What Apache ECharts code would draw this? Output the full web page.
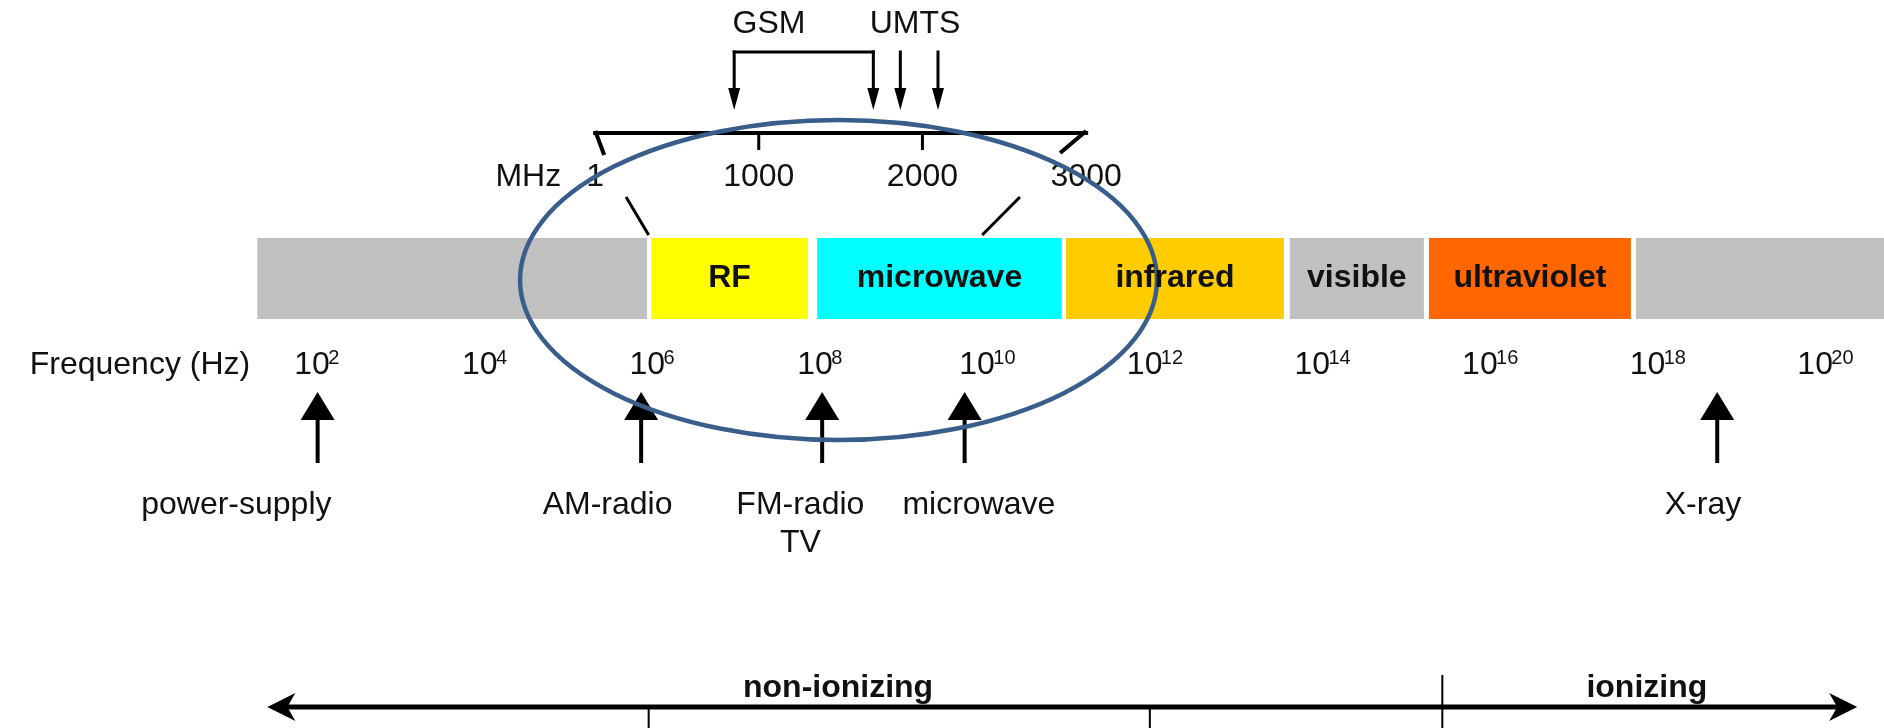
<!DOCTYPE html>
<html>
<head>
<meta charset="utf-8">
<title>Electromagnetic spectrum</title>
<script src="https://cdn.jsdelivr.net/npm/echarts@6/dist/echarts.min.js"></script>
<style>
  html, body { margin: 0; padding: 0; background: #fff; }
  #main { width: 1884px; height: 728px; }
</style>
</head>
<body>
<div id="main"></div>
<script>
// spectrum bands, x in log10(Hz)
var bandNames = ['', 'RF', 'microwave', 'infrared', 'visible', 'ultraviolet', ''];
var bandStart = [1.29, 5.99, 7.97, 10.94, 13.61, 15.27, 17.74];
var bandEnd = [5.94, 7.86, 10.89, 13.54, 15.21, 17.68, 20.7];
var bandColors = ['#c0c0c0', '#ffff00', '#00ffff', '#ffcc00', '#c0c0c0', '#ff6600', '#c0c0c0'];

// frequency tick labels, 10^n
var tickExp = [2, 4, 6, 8, 10, 12, 14, 16, 18, 20];
var freqName = 'Frequency (Hz)';
var freqNameExp = -0.11;

// sources pointed at from below
var sourceNames = ['power-supply', 'AM-radio', 'FM-radio\nTV', 'microwave', 'X-ray'];
var sourceExp = [2.01, 5.87, 8.03, 9.73, 18.71];
var sourceLabelExp = [1.04, 5.47, 7.77, 9.9, 18.54];

// zoomed MHz scale
var mhzTicks = [1, 1000, 2000, 3000];
var netNames = ['GSM', 'UMTS'];
var netLabelMHz = [1063, 1955];
var gsmMHz = [850, 1700];
var umtsMHz = [1865, 2095];

// lines tying the MHz scale to the band
var zoomTopExp = [5.69, 10.39];
var zoomBottomExp = [5.96, 9.94];

// circled area
var ringCenterExp = 8.225;
var ringHalfWidthExp = 3.8;

// ionizing split
var rangeNames = ['non-ionizing', 'ionizing'];
var rangeLabelExp = [8.22, 17.87];
var rangeLineExp = [1.41, 20.38];
var rangeTickExp = [5.96, 11.94];
var rangeSplitExp = 15.43;

var FONT = '"Liberation Sans", Arial, sans-serif';
var INK = '#111';

// vertical layout, px from top
var Y = {
  netLabel: 24, netTop: 52, netTip: 110,
  mhzLine: 133, mhzTick: 150, mhzLabel: 177,
  zoomTop: 197, zoomBottom: 235,
  barTop: 238, barBottom: 319, ring: 280, ringHalf: 160,
  freqLabel: 365,
  srcTip: 392, srcHead: 420, srcEnd: 463, srcLabel: 486,
  rangeLabel: 688, rangeLine: 707, splitTop: 675, tickBottom: 728
};

var chart = echarts.init(document.getElementById('main'));

function txt(x, y, text, font, align, va) {
  return { type: 'text', x: x, y: y, style: { text: text, font: font, fill: INK, align: align || 'center', verticalAlign: va || 'middle', lineHeight: 38 } };
}
function seg(a, b, w) {
  return { type: 'line', shape: { x1: a[0], y1: a[1], x2: b[0], y2: b[1] }, style: { stroke: '#000', lineWidth: w } };
}

function renderBand(params, api) {
  var i = params.dataIndex;
  var a = api.coord([api.value(0), Y.barTop]);
  var b = api.coord([api.value(1), Y.barBottom]);
  return {
    type: 'rect',
    shape: { x: a[0], y: a[1], width: b[0] - a[0], height: b[1] - a[1] },
    style: { fill: bandColors[i] },
    textContent: { style: { text: bandNames[i], font: 'bold 32px ' + FONT, fill: INK } },
    textConfig: { position: 'inside' }
  };
}

function renderTick(params, api) {
  var e = api.value(0);
  var p = api.coord([e, Y.freqLabel]);
  var sup = String(e);
  var baseW = 34, supW = sup.length * 11;
  var left = p[0] - (baseW + supW) / 2;
  return { type: 'group', children: [
    txt(left, p[1], '10', '32px ' + FONT, 'left'),
    txt(left + baseW, p[1] - 7, sup, '20px ' + FONT, 'left')
  ] };
}

function renderFreqName(params, api) {
  var p = api.coord([api.value(0), Y.freqLabel]);
  return txt(p[0], p[1], freqName, '32px ' + FONT);
}

function renderSource(params, api) {
  var i = params.dataIndex;
  var tip = api.coord([api.value(0), Y.srcTip]);
  var head = api.coord([api.value(0), Y.srcHead]);
  var end = api.coord([api.value(0), Y.srcEnd]);
  var lab = api.coord([api.value(1), Y.srcLabel]);
  return { type: 'group', children: [
    { type: 'polygon', shape: { points: [tip, [head[0] - 17, head[1]], [head[0] + 17, head[1]]] }, style: { fill: '#000' } },
    seg([head[0], head[1] - 2], end, 4),
    txt(lab[0], lab[1], sourceNames[i], '32px ' + FONT, 'center', 'top')
  ] };
}

function renderBracket(params, api) {
  var a = api.coord([api.value(0), Y.mhzLine]);
  var b = api.coord([api.value(1), Y.mhzLine]);
  return { type: 'group', children: [
    seg([a[0] - 2, a[1]], [b[0] + 2, b[1]], 4),
    seg([a[0], a[1] - 2], [a[0] + 9, a[1] + 22], 4),
    seg([b[0], b[1] - 2], [b[0] - 26, b[1] + 20], 4)
  ] };
}

function renderMhzTick(params, api) {
  var i = params.dataIndex;
  var top = api.coord([api.value(0), Y.mhzLine]);
  var bot = api.coord([api.value(0), Y.mhzTick]);
  var lab = api.coord([api.value(0), Y.mhzLabel]);
  var kids = [txt(lab[0], lab[1], String(api.value(0)), '32px ' + FONT)];
  if (i > 0 && i < mhzTicks.length - 1) kids.push(seg(top, bot, 3));
  if (i === 0) kids.push(txt(lab[0] - 34, lab[1], 'MHz', '32px ' + FONT, 'right'));
  return { type: 'group', children: kids };
}

function renderNetArrow(params, api) {
  var top = api.coord([api.value(0), Y.netTop]);
  var tip = api.coord([api.value(0), Y.netTip]);
  return { type: 'group', children: [
    seg([top[0], top[1] - 1.5], [tip[0], tip[1] - 18], 3),
    { type: 'polygon', shape: { points: [tip, [tip[0] - 6, tip[1] - 22], [tip[0] + 6, tip[1] - 22]] }, style: { fill: '#000' } }
  ] };
}

function renderNetBar(params, api) {
  var a = api.coord([api.value(0), Y.netTop]);
  var b = api.coord([api.value(1), Y.netTop]);
  return seg([a[0] - 1.5, a[1]], [b[0] + 1.5, b[1]], 3);
}

function renderNetLabel(params, api) {
  var p = api.coord([api.value(0), Y.netLabel]);
  return txt(p[0], p[1], netNames[params.dataIndex], '32px ' + FONT);
}

function renderZoomLine(params, api) {
  var a = api.coord([api.value(0), Y.zoomTop]);
  var b = api.coord([api.value(1), Y.zoomBottom]);
  return seg(a, b, 3);
}

function renderRing(params, api) {
  var c = api.coord([api.value(0), Y.ring]);
  var rx = api.size([ringHalfWidthExp, 0])[0];
  var ry = Y.ringHalf;
  return {
    type: 'path',
    shape: {
      pathData: 'M0,50 A50,50 0 1 0 100,50 A50,50 0 1 0 0,50 Z',
      x: c[0] - rx, y: c[1] - ry, width: rx * 2, height: ry * 2, layout: 'cover'
    },
    style: { fill: 'none', stroke: '#3a5e8c', lineWidth: 4.5 }
  };
}

function renderRangeLine(params, api) {
  var a = api.coord([api.value(0), Y.rangeLine]);
  var b = api.coord([api.value(1), Y.rangeLine]);
  var L = 28, H = 14, N = 8;
  return { type: 'group', children: [
    seg([a[0] + 12, a[1]], [b[0] - 12, b[1]], 5),
    { type: 'polygon', shape: { points: [a, [a[0] + L, a[1] - H], [a[0] + L - N, a[1]], [a[0] + L, a[1] + H]] }, style: { fill: '#000' } },
    { type: 'polygon', shape: { points: [b, [b[0] - L, b[1] - H], [b[0] - L + N, b[1]], [b[0] - L, b[1] + H]] }, style: { fill: '#000' } }
  ] };
}

function renderRangeTick(params, api) {
  return seg(api.coord([api.value(0), Y.rangeLine]), api.coord([api.value(0), Y.tickBottom]), 2);
}

function renderRangeSplit(params, api) {
  return seg(api.coord([api.value(0), Y.splitTop]), api.coord([api.value(0), Y.tickBottom]), 2);
}

function renderRangeLabel(params, api) {
  var p = api.coord([api.value(0), Y.rangeLabel]);
  return txt(p[0], p[1], rangeNames[params.dataIndex], 'bold 32px ' + FONT);
}

function custom(render, data, xi) {
  return { type: 'custom', xAxisIndex: xi || 0, yAxisIndex: 0, clip: false, silent: true, renderItem: render, data: data };
}

var option = {
  animation: false,
  backgroundColor: '#fff',
  grid: { left: 0, right: 0, top: 0, bottom: 0 },
  xAxis: [
    { type: 'value', min: -1.78, max: 20.7, show: false },
    { type: 'value', min: -3635, max: 7874, show: false }
  ],
  yAxis: { type: 'value', min: 0, max: 728, inverse: true, show: false },
  series: [
    custom(renderBand, bandStart.map(function (s, i) { return [s, bandEnd[i]]; })),
    custom(renderTick, tickExp.map(function (e) { return [e]; })),
    custom(renderFreqName, [[freqNameExp]]),
    custom(renderSource, sourceExp.map(function (e, i) { return [e, sourceLabelExp[i]]; })),
    custom(renderBracket, [[mhzTicks[0], mhzTicks[mhzTicks.length - 1]]], 1),
    custom(renderMhzTick, mhzTicks.map(function (m) { return [m]; }), 1),
    custom(renderNetArrow, gsmMHz.concat(umtsMHz).map(function (m) { return [m]; }), 1),
    custom(renderNetBar, [[gsmMHz[0], gsmMHz[1]]], 1),
    custom(renderNetLabel, netLabelMHz.map(function (m) { return [m]; }), 1),
    custom(renderZoomLine, zoomTopExp.map(function (e, i) { return [e, zoomBottomExp[i]]; })),
    custom(renderRangeLine, [[rangeLineExp[0], rangeLineExp[1]]]),
    custom(renderRangeTick, rangeTickExp.map(function (e) { return [e]; })),
    custom(renderRangeSplit, [[rangeSplitExp]]),
    custom(renderRangeLabel, rangeLabelExp.map(function (e) { return [e]; })),
    custom(renderRing, [[ringCenterExp]])
  ]
};

chart.setOption(option);
</script>
</body>
</html>
